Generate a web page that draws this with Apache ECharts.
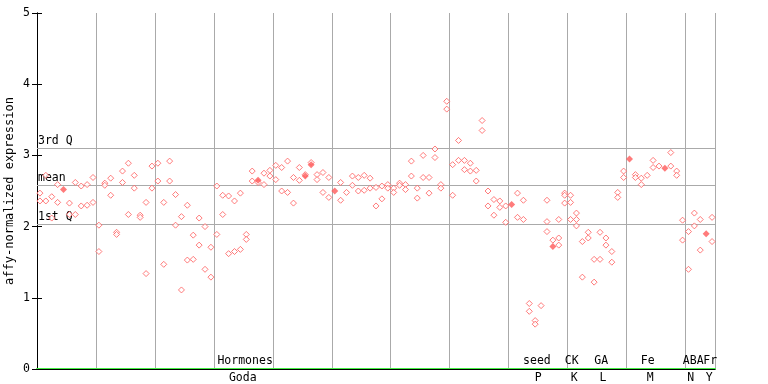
<!DOCTYPE html>
<html><head><meta charset="utf-8">
<script src="https://cdn.jsdelivr.net/npm/echarts@6/dist/echarts.min.js"></script>
<style>html,body{margin:0;padding:0;background:#fff}#c{width:768px;height:384px}</style>
</head><body><div id="c"></div>
<script>
// replicate values per sample slot (null = none)
const repA = [2.47,2.72,2.42,2.59,null,2.33,2.62,2.57,2.59,2.69,2.02,2.61,2.68,1.92,2.78,2.89,2.72,2.16,2.34,2.85,
  2.89,2.34,2.92,2.45,2.14,2.30,1.88,2.12,2.00,1.71,2.57,2.44,2.43,2.36,2.47,1.89,2.78,2.62,2.75,2.79,
  2.86,2.83,2.92,2.69,2.83,2.73,2.90,2.73,2.76,2.69,null,2.62,2.48,2.71,2.69,2.72,2.68,2.55,2.57,2.59,
  2.54,2.61,2.59,2.92,2.54,3.00,2.69,3.09,2.59,3.76,2.87,3.21,2.93,2.89,2.79,3.49,2.50,2.38,2.36,2.29,
  null,2.47,2.37,0.92,0.68,0.89,2.37,1.81,2.10,2.47,2.44,2.19,1.79,1.92,1.54,1.92,1.84,1.65,2.48,2.78,
  null,2.73,2.68,2.72,2.93,2.85,null,3.04,2.78,2.09,1.93,2.19,2.10,null,2.13];
const repB = [2.36,2.36,2.12,2.34,null,2.17,2.17,2.29,2.30,2.34,1.65,2.58,2.44,1.89,2.62,2.17,2.54,2.13,1.34,2.54,
  2.64,1.47,2.64,2.02,1.11,1.53,1.54,1.74,1.40,1.29,1.89,2.17,1.62,1.65,1.68,1.82,2.64,null,2.59,2.71,
  2.66,2.50,2.48,2.33,2.65,null,null,2.66,2.48,2.41,null,2.37,null,2.58,2.50,2.51,2.54,2.29,2.39,2.54,
  2.48,2.58,2.52,2.71,2.40,2.69,2.47,2.97,2.54,3.65,2.44,2.93,2.80,2.78,2.64,3.35,2.29,2.16,2.27,2.06,
  null,2.13,2.10,0.81,0.63,null,2.07,null,1.84,2.44,2.34,2.10,1.29,1.84,1.22,1.54,1.74,1.50,2.41,2.69,
  null,2.69,2.59,null,2.83,null,null,2.85,2.72,1.81,1.40,2.01,1.67,null,1.79];
const repC = {86:1.93, 88:1.74, 89:2.33, 90:2.10, 91:2.01};
// overlapping (solid) points: slot, value
const overlapSlots  = [4, 37, 45, 46, 50, 80, 87, 100, 106, 113];
const overlapValues = [2.52, 2.65, 2.71, 2.87, 2.50, 2.31, 1.72, 2.95, 2.82, 1.90];
// summary lines
const quartileNames  = ['3rd Q', 'mean', '1st Q'];
const quartileValues = [3.10, 2.58, 2.03];
// category labels along x
const groupLabels    = ['Hormones', 'seed', 'CK', 'GA', 'Fe', 'ABA', 'Fr'];
const groupPos       = [35.3, 84.8, 90.7, 95.7, 103.6, 111.3, 114.2];
const subLabels      = ['Goda', 'P', 'K', 'L', 'M', 'N', 'Y'];
const subPos         = [34.9, 85.0, 91.1, 96.0, 104.0, 110.9, 114.0];
const slotCount = 115;

const hollow = [];
for (let i = 0; i < slotCount; i++) {
  if (repA[i] != null) hollow.push([i + 0.5, repA[i]]);
  if (repB[i] != null) hollow.push([i + 0.5, repB[i]]);
  if (repC[i] != null) hollow.push([i + 0.5, repC[i]]);
}
const solid = overlapSlots.map((s, k) => [s + 0.5, overlapValues[k]]);

const FONT = 'DejaVu Sans Mono';
const PINK = '#ff5a5a';

function labelAxis(positions, names, inside, margin) {
  return {type: 'value', min: 0, max: slotCount, position: 'bottom',
    axisLine: {show: false}, axisTick: {show: false}, splitLine: {show: false},
    axisLabel: {show: true, inside: inside, customValues: positions, margin: margin, color: '#000',
      hideOverlap: false, showMinLabel: true, showMaxLabel: true, fontFamily: FONT, fontSize: 11.5,
      formatter: v => { const k = positions.findIndex(p => Math.abs(p - v) < 1e-6); return k >= 0 ? names[k] : ''; }}};
}
const evenIdx = groupLabels.map((_, i) => i).filter(i => i % 2 === 0);
const oddIdx  = groupLabels.map((_, i) => i).filter(i => i % 2 === 1);
const subEven = subLabels.map((_, i) => i).filter(i => i % 2 === 0);
const subOdd  = subLabels.map((_, i) => i).filter(i => i % 2 === 1);

const chart = echarts.init(document.getElementById('c'), null, {renderer: 'canvas'});
chart.setOption({
  animation: false,
  backgroundColor: '#fff',
  grid: {left: 37, right: 53, top: 13, bottom: 15, containLabel: false, outerBoundsMode: 'none'},
  xAxis: [
    {type: 'value', min: 0, max: slotCount, interval: 10, position: 'bottom',
     axisLine: {show: true, lineStyle: {color: '#44ee44', width: 2}},
     axisTick: {show: false},
     splitLine: {show: true, lineStyle: {color: '#aaaaaa', width: 1}},
     axisLabel: {show: false}},
    {type: 'value', min: 0, max: slotCount, position: 'top',
     axisLine: {show: true, lineStyle: {color: '#000', width: 1}},
     axisTick: {show: false}, axisLabel: {show: false}, splitLine: {show: false}},
    labelAxis(evenIdx.map(i => groupPos[i]), evenIdx.map(i => groupLabels[i]), true, 2),
    labelAxis(oddIdx.map(i => groupPos[i]), oddIdx.map(i => groupLabels[i]), true, 2),
    labelAxis(subEven.map(i => subPos[i]), subEven.map(i => subLabels[i]), false, 3),
    labelAxis(subOdd.map(i => subPos[i]), subOdd.map(i => subLabels[i]), false, 3)
  ],
  yAxis: [
    {type: 'value', min: 0, max: 5, interval: 1, position: 'left',
     name: 'affy-normalized expression', nameLocation: 'middle', nameGap: 21, nameMoveOverlap: false,
     nameTextStyle: {fontFamily: FONT, fontSize: 12, color: '#000'},
     axisLine: {show: true, lineStyle: {color: '#000', width: 1}},
     axisTick: {show: true, inside: true, length: 5, lineStyle: {color: '#000'}},
     axisLabel: {color: '#000', fontFamily: FONT, fontSize: 11.5, margin: 7},
     splitLine: {show: false}},
    {type: 'value', min: 0, max: 5, interval: 1, position: 'right',
     axisLine: {show: true, lineStyle: {color: '#000', width: 1}},
     axisTick: {show: true, inside: true, length: 5, lineStyle: {color: '#000'}},
     axisLabel: {show: false}, splitLine: {show: false}}
  ],
  series: [
    {type: 'scatter', name: 'samples', xAxisIndex: 0, yAxisIndex: 0, data: hollow,
     symbol: 'diamond', symbolSize: 6,
     itemStyle: {color: '#fff', borderColor: PINK, borderWidth: 1},
     z: 5,
     markLine: {silent: true, symbol: 'none',
       lineStyle: {color: '#aaaaaa', width: 1, type: 'solid'},
       label: {show: true, position: 'insideStartTop', distance: [1, 1], color: '#000',
         fontFamily: FONT, fontSize: 11.5, formatter: p => p.name},
       data: quartileValues.map((v, k) => ({name: quartileNames[k], yAxis: v}))}},
    {type: 'scatter', name: 'overlap', xAxisIndex: 0, yAxisIndex: 0, data: solid,
     symbol: 'diamond', symbolSize: 7, itemStyle: {color: PINK}, z: 6}
  ]
});
</script></body></html>
